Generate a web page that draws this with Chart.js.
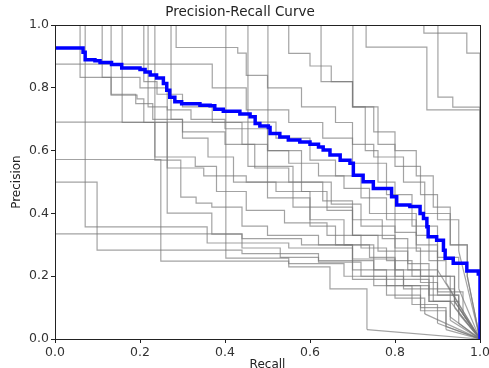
<!DOCTYPE html>
<html>
<head>
<meta charset="utf-8">
<script src="https://cdn.jsdelivr.net/npm/chart.js@4.4.1/dist/chart.umd.min.js"></script>
<style>
  html, body { margin: 0; padding: 0; background: #fff; }
</style>
</head>
<body>
<canvas id="prChart" width="489" height="368"></canvas>
<script>
// mean curve (blue)
const blueRecall = [0, 0.066, 0.071, 0.094, 0.106, 0.133, 0.157, 0.2, 0.212, 0.224, 0.239, 0.255, 0.263, 0.27, 0.282, 0.298,
  0.341, 0.365, 0.376, 0.396, 0.435, 0.459, 0.471, 0.482, 0.502, 0.506, 0.529, 0.549, 0.576, 0.6, 0.62, 0.631, 0.647,
  0.671, 0.694, 0.702, 0.725, 0.749, 0.792, 0.804, 0.835, 0.859, 0.867, 0.875, 0.878, 0.898, 0.914, 0.918, 0.937,
  0.969, 0.996, 1, 1];
const bluePrecision = [0.927, 0.914, 0.89, 0.887, 0.881, 0.875, 0.864, 0.859, 0.851, 0.841, 0.832, 0.814, 0.793, 0.77, 0.756, 0.75,
  0.745, 0.743, 0.732, 0.726, 0.717, 0.708, 0.687, 0.679, 0.674, 0.655, 0.644, 0.634, 0.628, 0.621, 0.612, 0.602, 0.586,
  0.57, 0.56, 0.522, 0.501, 0.48, 0.453, 0.427, 0.422, 0.4, 0.384, 0.358, 0.326, 0.315, 0.283, 0.257, 0.241,
  0.217, 0.207, 0.205, 0];

// per-class curves (gray), [recall, precision]
const grayCurves = [
  [[0,1],[0.071,0.357],[0.358,0.306],[0.55,0.29],[0.70,0.19],[0.80,0.13],[0.87,0.08]],
  [[0,0.5],[0.099,0.283],[0.44,0.272],[0.62,0.25],[0.75,0.17],[0.84,0.11],[0.9,0.05]],
  [[0,0.335],[0.44,0.32],[0.58,0.3],[0.70,0.255],[0.80,0.19],[0.88,0.12],[0.93,0.06]],
  [[0,0.572],[0.249,0.248],[0.55,0.23],[0.647,0.16],[0.734,0.03]],
  [[0,1],[0.059,0.834],[0.132,0.777],[0.193,0.765],[0.209,0.69],[0.264,0.545],[0.35,0.52],[0.45,0.5],[0.52,0.47],[0.6,0.42],[0.70,0.33],[0.80,0.2],[0.88,0.14],[0.95,0.08]],
  [[0,0.876],[0.30,0.876],[0.37,0.80],[0.45,0.73],[0.55,0.69],[0.63,0.64],[0.70,0.56],[0.78,0.46],[0.84,0.36],[0.90,0.26],[0.95,0.16]],
  [[0,1],[0.111,0.834],[0.20,0.80],[0.264,0.73],[0.32,0.7],[0.40,0.67],[0.5,0.6],[0.58,0.5],[0.65,0.43],[0.72,0.36],[0.8,0.29],[0.86,0.2],[0.93,0.12]],
  [[0,1],[0.158,0.69],[0.235,0.57],[0.296,0.452],[0.332,0.433],[0.369,0.42],[0.44,0.36],[0.50,0.33],[0.62,0.3],[0.7,0.22],[0.78,0.17],[0.86,0.1],[0.92,0.04]],
  [[0,1],[0.219,0.74],[0.264,0.401],[0.369,0.334],[0.44,0.29],[0.53,0.26],[0.62,0.245],[0.72,0.2],[0.82,0.16],[0.89,0.12],[0.95,0.05]],
  [[0,1],[0.273,0.70],[0.30,0.66],[0.40,0.62],[0.47,0.545],[0.55,0.50],[0.63,0.44],[0.70,0.38],[0.77,0.32],[0.83,0.24],[0.88,0.2],[0.94,0.1]],
  [[0,1],[0.285,0.929],[0.43,0.911],[0.45,0.84],[0.50,0.80],[0.58,0.74],[0.66,0.69],[0.70,0.62],[0.75,0.58],[0.82,0.50],[0.87,0.40],[0.93,0.3],[0.97,0.2]],
  [[0,1],[0.402,0.258],[0.55,0.24],[0.68,0.2],[0.78,0.14],[0.86,0.09],[0.92,0.03]],
  [[0,1],[0.454,0.55],[0.50,0.5],[0.58,0.47],[0.64,0.41],[0.70,0.33],[0.76,0.28],[0.83,0.22],[0.9,0.15],[0.96,0.08]],
  [[0,1],[0.501,0.60],[0.55,0.56],[0.62,0.52],[0.68,0.48],[0.74,0.40],[0.80,0.34],[0.85,0.28],[0.9,0.22]],
  [[0,1],[0.55,0.91],[0.60,0.87],[0.65,0.82],[0.70,0.74],[0.76,0.62],[0.80,0.55],[0.86,0.46],[0.9,0.38],[0.95,0.28]],
  [[0,1],[0.626,0.82],[0.70,0.74],[0.75,0.66],[0.80,0.60],[0.85,0.52],[0.89,0.42],[0.93,0.3],[0.97,0.2]],
  [[0,1],[0.701,0.74],[0.73,0.6],[0.76,0.5],[0.80,0.4],[0.85,0.33],[0.88,0.25],[0.92,0.18]],
  [[0,1],[0.732,0.93],[0.868,0.93],[0.875,0.73],[1,0.73]],
  [[0,1],[0.868,0.975],[0.969,0.911],[1,0.911]],
  [[0,1],[0.901,0.771],[0.936,0.739],[1,0.739]],
  [[0,0.691],[0.45,0.691],[0.52,0.64],[0.6,0.57],[0.66,0.52],[0.72,0.45],[0.78,0.38],[0.85,0.3],[0.9,0.2],[0.94,0.12]],
  [[0,1],[0.132,0.78],[0.19,0.75],[0.23,0.70],[0.30,0.64],[0.36,0.58],[0.42,0.5],[0.50,0.45],[0.6,0.38],[0.68,0.3],[0.75,0.22],[0.82,0.17],[0.88,0.12],[0.93,0.07]],
  [[0,1],[0.209,0.82],[0.24,0.78],[0.3,0.74],[0.37,0.69],[0.44,0.62],[0.5,0.55],[0.56,0.42],[0.6,0.36],[0.66,0.3],[0.74,0.26],[0.8,0.22],[0.86,0.18],[0.9,0.14],[0.95,0.1]],
  [[0,1],[0.235,0.58],[0.33,0.55],[0.38,0.47],[0.45,0.41],[0.54,0.37],[0.64,0.33],[0.72,0.29],[0.78,0.25],[0.84,0.2],[0.89,0.16],[0.94,0.12]]
];

const ticks = [0, 0.2, 0.4, 0.6, 0.8, 1.0];

const grayColor = 'rgba(120,120,120,0.68)';
const datasets = [{
  data: blueRecall.map((r, i) => ({x: r, y: bluePrecision[i]})),
  borderColor: '#0000ff',
  borderWidth: 3.5,
  stepped: true,
  pointRadius: 0
}];
grayCurves.forEach(c => {
  datasets.push({
    data: c.map(p => ({x: p[0], y: p[1]})),
    borderColor: grayColor,
    borderWidth: 1.2,
    stepped: true,
    pointRadius: 0
  });
  // final segment runs straight to (1, 0)
  const last = c[c.length - 1];
  datasets.push({
    data: [{x: last[0], y: last[1]}, {x: 1, y: 0}],
    borderColor: grayColor,
    borderWidth: 1.2,
    pointRadius: 0
  });
});

const frame = {
  id: 'frame',
  afterDraw(chart) {
    const {ctx, chartArea: a} = chart;
    ctx.save();
    ctx.strokeStyle = '#222';
    ctx.lineWidth = 1;
    ctx.strokeRect(Math.round(a.left) + 0.5, Math.round(a.top) + 0.5, Math.round(a.right - a.left), Math.round(a.bottom - a.top));
    ctx.restore();
  }
};

const tickFont = {family: 'DejaVu Sans', size: 12.5};
const axisCommon = {
  type: 'linear',
  min: 0,
  max: 1,
  afterBuildTicks: s => { s.ticks = ticks.map(v => ({value: v})); },
  ticks: {font: tickFont, color: '#333', padding: 2, callback: v => v.toFixed(1)},
  grid: {drawOnChartArea: false, tickLength: 4, color: '#222'},
  border: {color: '#222'}
};

new Chart(document.getElementById('prChart'), {
  type: 'line',
  data: {datasets},
  options: {
    responsive: false,
    animation: false,
    layout: {padding: {left: 0, right: 9, top: 0, bottom: 0}},
    plugins: {
      legend: {display: false},
      tooltip: {enabled: false},
      title: {
        display: true,
        text: 'Precision-Recall Curve',
        font: {family: 'DejaVu Sans', size: 13.5, weight: 'normal'},
        color: '#222',
        padding: {top: 4, bottom: 5}
      }
    },
    scales: {
      x: Object.assign({}, axisCommon, {
        title: {display: true, text: 'Recall', font: {family: 'DejaVu Sans', size: 12}, color: '#222', padding: {top: 0, bottom: -4}},
        afterFit: s => { s.height = 29; s.paddingRight = 0; s.paddingLeft = 0; }
      }),
      y: Object.assign({}, axisCommon, {
        title: {display: true, text: 'Precision', font: {family: 'DejaVu Sans', size: 12}, color: '#222', padding: {top: 10, bottom: 0}},
        afterFit: s => { s.width = 55; s.paddingTop = 0; s.paddingBottom = 0; }
      })
    }
  },
  plugins: [frame]
});
</script>
</body>
</html>
